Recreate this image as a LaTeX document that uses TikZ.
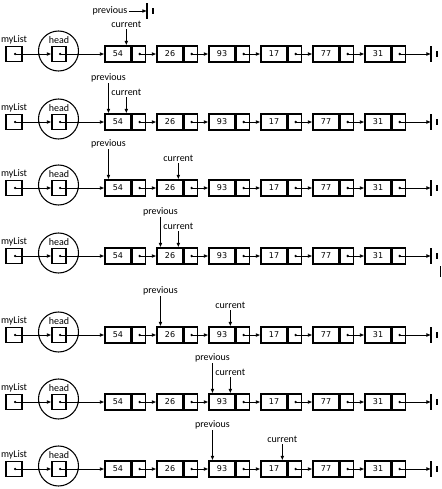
\documentclass[tikz,border=0pt]{standalone}
\usepackage{fontspec}
\setmainfont{Carlito}
\newfontfamily\numfont{DejaVu Sans}
\usetikzlibrary{arrows.meta,positioning}
\tikzset{
  box/.style={draw, line width=0.8pt, inner sep=0pt, minimum height=12pt},
  databox/.style={box, minimum width=19.5pt, font=\numfont\fontsize{6}{7}\selectfont},
  ptrbox/.style={box, minimum width=9.75pt},
  varbox/.style={box, minimum height=11.25pt},
  link/.style={line width=0.6pt, {Circle[length=1.7pt]}-{Latex[length=3.4pt,width=2.8pt]}},
  pointer/.style={line width=0.7pt, -{Latex[length=3.4pt,width=2.8pt]}},
  tag/.style={font=\fontsize{7.5}{9}\selectfont, inner sep=1pt},
  ground/.style={line width=1.1pt}
}
\begin{document}
\begin{tikzpicture}[x=0.75pt, y=-0.75pt]
\useasboundingbox (0,0) rectangle (442,489);

% one row for each step of the search
\foreach \row/\yc/\p/\c in {1/54/0/1, 2/122/1/1, 3/188/1/2, 4/256/2/2, 5/335/2/3, 6/402/3/3, 7/469/3/4}{
  % myList and head
  \node[varbox, minimum width=12pt] (r\row ml) at (14,\yc) {};
  \node[tag, anchor=south] (r\row mlt) at ([yshift=0.4pt]r\row ml.north) {myList};
  \node[draw, circle, line width=0.8pt, minimum size=30pt, inner sep=0pt] (r\row hc) at (58.5,\yc-3) {};
  \node[varbox, minimum width=10.5pt] (r\row hd) at (59,\yc) {};
  \node[tag, anchor=south] (r\row hdt) at ([yshift=0.4pt]r\row hd.north) {head};

  % the linked nodes
  \foreach \v [count=\k] in {54,26,93,17,77,31}{
    \node[databox] (r\row d\k) at (66+52*\k,\yc) {\v};
    \node[ptrbox, right=0pt of r\row d\k] (r\row p\k) {};
  }
  \draw[link] (r\row ml.center) -- (r\row hd.west);
  \draw[link] (r\row hd.center) -- (r\row d1.west);
  \foreach \k [evaluate=\k as \n using int(\k+1)] in {1,...,5}{
    \draw[link] (r\row p\k.center) -- (r\row d\n.west);
  }

  % end of the list
  \coordinate (r\row g) at (431,\yc);
  \draw[link] (r\row p6.center) -- (r\row g);
  \draw[ground] ([yshift=6pt]r\row g) -- ([yshift=-6pt]r\row g);
  \draw[line width=0.9pt] ([xshift=4.5pt,yshift=2.2pt]r\row g) -- ([xshift=4.5pt,yshift=-2.2pt]r\row g);

  % previous and current
  \ifnum\p>0
    \node[tag, anchor=south] (r\row prv) at ([xshift=3pt,yshift=22.5pt]r\row d\p.north west) {previous};
    \draw[pointer] (r\row prv.south) -- (r\row prv.south |- r\row d\p.north);
  \fi
  \node[tag, anchor=south] (r\row cur) at ([xshift=-3.9pt,yshift=12pt]r\row d\c.north east) {current};
  \draw[pointer] (r\row cur.south) -- (r\row cur.south |- r\row d\c.north);
}

% previous starts as None
\node[tag] (r1prv) at (110,11) {previous};
\coordinate (r1pg) at (147,11);
\draw[pointer] (r1prv.east) -- (r1pg);
\draw[ground] ([yshift=6pt]r1pg) -- ([yshift=-6pt]r1pg);
\draw[line width=0.9pt] ([xshift=4.5pt,yshift=2.2pt]r1pg) -- ([xshift=4.5pt,yshift=-2.2pt]r1pg);

% stray mark at the right edge
\draw[line width=1pt] (440.5,266) -- (440.5,277);
\end{tikzpicture}
\end{document}
